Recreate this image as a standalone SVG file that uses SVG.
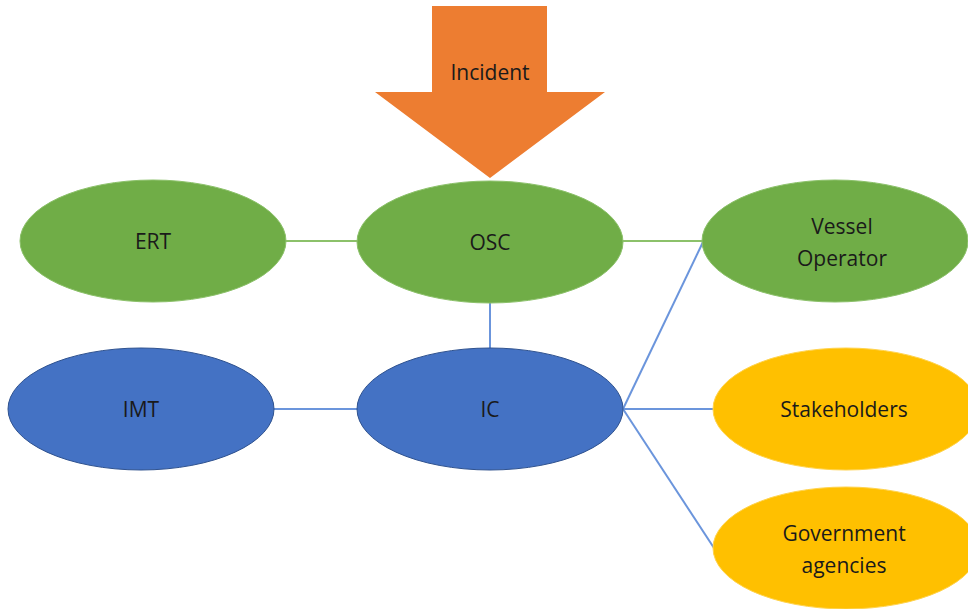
<svg xmlns="http://www.w3.org/2000/svg" width="968" height="609" viewBox="0 0 968 609">
<style>
text{font-family:"Open Sans","Liberation Sans",sans-serif;font-size:21px;fill:#1a1a1a;text-anchor:middle}
.g{fill:#70ad47;stroke:#8cc16a;stroke-width:1}
.b{fill:#4472c4;stroke:#2f528f;stroke-width:1}
.y{fill:#ffc000;stroke:#ffd34d;stroke-width:1}
.lg{stroke:#8cc16a;stroke-width:2;fill:none}
.lb{stroke:#6b95dc;stroke-width:2;fill:none}
</style>
<rect width="968" height="609" fill="#fff"/>
<g id="connectors">
<line class="lg" x1="285" y1="241" x2="358" y2="241"/>
<line class="lg" x1="622" y1="241" x2="703" y2="241"/>
<line class="lb" x1="490" y1="303" x2="490" y2="348"/>
<line class="lb" x1="273" y1="409" x2="358" y2="409"/>
<line class="lb" x1="623" y1="409" x2="703" y2="242"/>
<line class="lb" x1="623" y1="409" x2="713" y2="409"/>
<line class="lb" x1="623" y1="409" x2="714" y2="548"/>
</g>
<g id="incident">
<polygon points="432,6 547,6 547,92 605,92 490,178 375,92 432,92" fill="#ed7d31"/>
<text x="490" y="80">Incident</text>
</g>
<g id="ERT"><ellipse class="g" cx="153" cy="241" rx="133" ry="61"/><text x="153" y="249">ERT</text></g>
<g id="OSC"><ellipse class="g" cx="490" cy="242" rx="133" ry="61"/><text x="490" y="250">OSC</text></g>
<g id="Vessel"><ellipse class="g" cx="835" cy="241" rx="133" ry="61"/><text x="842" y="234">Vessel</text><text x="842" y="266">Operator</text></g>
<g id="IMT"><ellipse class="b" cx="141" cy="409" rx="133" ry="61"/><text x="141" y="417">IMT</text></g>
<g id="IC"><ellipse class="b" cx="490" cy="409" rx="133" ry="61"/><text x="490" y="417">IC</text></g>
<g id="Stakeholders"><ellipse class="y" cx="846" cy="409" rx="133" ry="61"/><text x="844" y="417">Stakeholders</text></g>
<g id="Government"><ellipse class="y" cx="846" cy="548" rx="133" ry="61"/><text x="844" y="541">Government</text><text x="844" y="573">agencies</text></g>
</svg>
